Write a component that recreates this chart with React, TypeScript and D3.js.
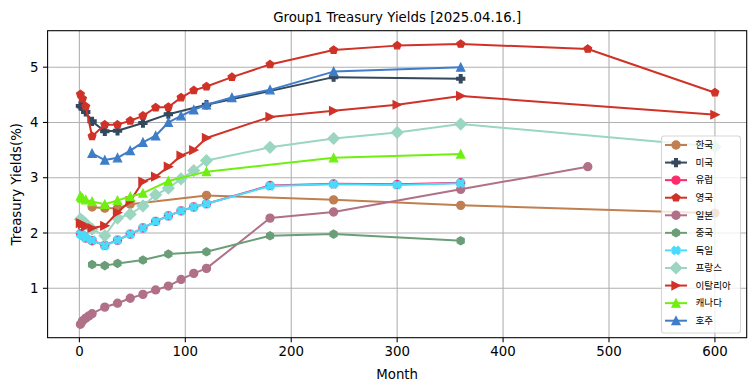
import * as d3 from "d3";

const title = "Group1 Treasury Yields [2025.04.16.]";
const xTicks = [0, 100, 200, 300, 400, 500, 600];
const yTicks = [1, 2, 3, 4, 5];

const koreaMonths = [12, 24, 36, 48, 120, 240, 360, 600];
const koreaYields = [2.47, 2.45, 2.45, 2.52, 2.68, 2.6, 2.5, 2.36];

const usMonths = [1, 2, 3, 4, 6, 12, 24, 36, 60, 84, 120, 240, 360];
const usYields = [4.3, 4.29, 4.3, 4.26, 4.19, 4.02, 3.84, 3.85, 3.99, 4.15, 4.32, 4.82, 4.79];

const euroMonths = [1, 3, 6, 12, 24, 36, 48, 60, 72, 84, 96, 108, 120, 180, 240, 300, 360];
const euroYields = [1.99, 1.96, 1.91, 1.86, 1.78, 1.87, 1.98, 2.09, 2.21, 2.31, 2.4, 2.47, 2.53, 2.86, 2.89, 2.88, 2.91];

const ukMonths = [1, 3, 6, 12, 24, 36, 48, 60, 72, 84, 96, 108, 120, 144, 180, 240, 300, 360, 480, 600];
const ukYields = [4.51, 4.43, 4.29, 3.75, 3.96, 3.96, 4.03, 4.12, 4.27, 4.28, 4.45, 4.58, 4.65, 4.82, 5.05, 5.31, 5.39, 5.42, 5.33, 4.54];

const japanMonths = [1, 3, 6, 9, 12, 24, 36, 48, 60, 72, 84, 96, 108, 120, 180, 240, 360, 480];
const japanYields = [0.35, 0.41, 0.46, 0.5, 0.54, 0.66, 0.73, 0.82, 0.89, 0.97, 1.04, 1.16, 1.27, 1.36, 2.27, 2.38, 2.79, 3.2];

const chinaMonths = [12, 24, 36, 60, 84, 120, 180, 240, 360];
const chinaYields = [1.43, 1.41, 1.45, 1.51, 1.62, 1.66, 1.95, 1.98, 1.86];

const germanyMonths = [1, 3, 6, 12, 24, 36, 48, 60, 72, 84, 96, 108, 120, 180, 240, 300, 360];
const germanyYields = [1.98, 1.96, 1.91, 1.87, 1.77, 1.87, 1.98, 2.09, 2.21, 2.31, 2.4, 2.47, 2.53, 2.85, 2.88, 2.87, 2.9];

const franceMonths = [1, 3, 6, 12, 24, 36, 48, 60, 72, 84, 96, 108, 120, 180, 240, 300, 360, 600];
const franceYields = [2.25, 2.22, 2.17, 2.07, 1.95, 2.27, 2.34, 2.49, 2.69, 2.81, 2.98, 3.13, 3.31, 3.55, 3.71, 3.82, 3.97, 3.56];

const italyMonths = [1, 3, 6, 12, 24, 36, 48, 60, 72, 84, 96, 108, 120, 180, 240, 300, 360, 600];
const italyYields = [2.18, 2.16, 2.12, 2.09, 2.13, 2.37, 2.58, 2.93, 3.02, 3.2, 3.4, 3.5, 3.72, 4.1, 4.21, 4.32, 4.48, 4.14];

const canadaMonths = [1, 2, 3, 6, 12, 24, 36, 48, 60, 84, 120, 240, 360];
const canadaYields = [2.67, 2.64, 2.63, 2.6, 2.57, 2.52, 2.59, 2.66, 2.72, 2.94, 3.11, 3.36, 3.43];

const australiaMonths = [12, 24, 36, 48, 60, 72, 84, 96, 108, 120, 144, 180, 240, 360];
const australiaYields = [3.44, 3.32, 3.36, 3.49, 3.64, 3.76, 4.0, 4.12, 4.23, 4.32, 4.45, 4.59, 4.92, 5.0];

const series = [
  { name: "한국", months: koreaMonths, values: koreaYields, color: "#c07f51", marker: "o" },
  { name: "미국", months: usMonths, values: usYields, color: "#34495e", marker: "P" },
  { name: "유럽", months: euroMonths, values: euroYields, color: "#ff2a6d", marker: "o" },
  { name: "영국", months: ukMonths, values: ukYields, color: "#d03228", marker: "p" },
  { name: "일본", months: japanMonths, values: japanYields, color: "#b07088", marker: "o" },
  { name: "중국", months: chinaMonths, values: chinaYields, color: "#6a9e78", marker: "h" },
  { name: "독일", months: germanyMonths, values: germanyYields, color: "#4adbfb", marker: "X" },
  { name: "프랑스", months: franceMonths, values: franceYields, color: "#9ad6c0", marker: "D" },
  { name: "이탈리아", months: italyMonths, values: italyYields, color: "#d03228", marker: ">" },
  { name: "캐나다", months: canadaMonths, values: canadaYields, color: "#6ff010", marker: "^" },
  { name: "호주", months: australiaMonths, values: australiaYields, color: "#3f7dc8", marker: "^" },
];

const W = 755;
const H = 391;
const margin = { top: 30.7, right: 8.3, bottom: 53.3, left: 47.6 };

function polygon(n: number, r: number) {
  const pts = d3.range(n).map((i) => {
    const a = -Math.PI / 2 + (i * 2 * Math.PI) / n;
    return [r * Math.cos(a), r * Math.sin(a)];
  });
  return "M" + pts.map((p) => p.join(",")).join("L") + "Z";
}

function markerPath(m: string) {
  const s = 8;
  if (m === "P") {
    const v = [[-1, -3], [1, -3], [1, -1], [3, -1], [3, 1], [1, 1], [1, 3], [-1, 3], [-1, 1], [-3, 1], [-3, -1], [-1, -1]];
    return "M" + v.map((p) => [(p[0] * s) / 6, (p[1] * s) / 6].join(",")).join("L") + "Z";
  }
  if (m === "X") {
    const v = [[-1, -2], [0, -1], [1, -2], [2, -1], [1, 0], [2, 1], [1, 2], [0, 1], [-1, 2], [-2, 1], [-1, 0], [-2, -1]];
    return "M" + v.map((p) => [(p[0] * s) / 4, (p[1] * s) / 4].join(",")).join("L") + "Z";
  }
  if (m === "p") return polygon(5, s / 2);
  if (m === "h") return polygon(6, s / 2);
  if (m === "D") {
    const d = s * Math.SQRT1_2;
    return `M0,${-d}L${d},0L0,${d}L${-d},0Z`;
  }
  if (m === "^") return `M0,${-s / 2}L${-s / 2},${s / 2}L${s / 2},${s / 2}Z`;
  if (m === ">") return `M${s / 2},0L${-s / 2},${-s / 2}L${-s / 2},${s / 2}Z`;
  return null;
}

function Marker({ m, color, x, y }: { m: string; color: string; x: number; y: number }) {
  const p = markerPath(m);
  if (!p) return <circle cx={x} cy={y} r={4} fill={color} stroke={color} strokeWidth={1.33} />;
  return <path d={p} transform={`translate(${x},${y})`} fill={color} stroke={color} strokeWidth={1.33} strokeLinejoin="miter" />;
}

export default function App() {
  const iw = W - margin.left - margin.right;
  const ih = H - margin.top - margin.bottom;
  const x = d3.scaleLinear().domain([-30, 630]).range([0, iw]);
  const y = d3.scaleLinear().domain([0.106, 5.66]).range([ih, 0]);
  const line = d3
    .line<[number, number]>()
    .x((d) => x(d[0]))
    .y((d) => y(d[1]));

  const font = "'DejaVu Sans', sans-serif";
  const lgX = 661.5 - margin.left;
  const lgY = 136 - margin.top;
  const lgW = 79;
  const lgH = 197;
  const rowH = 17.57;

  return (
    <svg width={W} height={H} style={{ position: "absolute", left: 0, top: 0, background: "#fff" }}>
      <text x={margin.left + iw / 2} y={21.5} textAnchor="middle" fontFamily={font} fontSize={13.33} fill="#000">
        {title}
      </text>
      <g transform={`translate(${margin.left},${margin.top})`}>
        {xTicks.map((t) => (
          <line key={"gx" + t} x1={x(t)} x2={x(t)} y1={0} y2={ih} stroke="#b0b0b0" strokeWidth={1.07} />
        ))}
        {yTicks.map((t) => (
          <line key={"gy" + t} x1={0} x2={iw} y1={y(t)} y2={y(t)} stroke="#b0b0b0" strokeWidth={1.07} />
        ))}
        {series.map((s) => {
          const pts = s.months.map((m, i) => [m, s.values[i]] as [number, number]);
          return (
            <g key={s.name}>
              <path d={line(pts) || ""} fill="none" stroke={s.color} strokeWidth={2} strokeLinejoin="round" strokeLinecap="square" />
              {pts.map((p, i) => (
                <Marker key={i} m={s.marker} color={s.color} x={x(p[0])} y={y(p[1])} />
              ))}
            </g>
          );
        })}
        <rect x={0} y={0} width={iw} height={ih} fill="none" stroke="#000" strokeWidth={1.07} />
        {xTicks.map((t) => (
          <g key={"tx" + t} transform={`translate(${x(t)},${ih})`}>
            <line y1={0} y2={4.67} stroke="#000" strokeWidth={1.07} />
            <text y={18.5} textAnchor="middle" fontFamily={font} fontSize={13.33} fill="#000">
              {t}
            </text>
          </g>
        ))}
        {yTicks.map((t) => (
          <g key={"ty" + t} transform={`translate(0,${y(t)})`}>
            <line x1={0} x2={-4.67} stroke="#000" strokeWidth={1.07} />
            <text x={-9} dy="0.35em" textAnchor="end" fontFamily={font} fontSize={13.33} fill="#000">
              {t}
            </text>
          </g>
        ))}
        <g>
          <rect x={lgX} y={lgY} width={lgW} height={lgH} rx={2.7} fill="#fff" fillOpacity={0.8} stroke="#cccccc" strokeOpacity={0.8} strokeWidth={1.07} />
          {series.map((s, i) => {
            const cy = lgY + 9 + i * rowH;
            return (
              <g key={"lg" + s.name}>
                <line x1={lgX + 3.5} x2={lgX + 25.5} y1={cy} y2={cy} stroke={s.color} strokeWidth={2} />
                <Marker m={s.marker} color={s.color} x={lgX + 14.5} y={cy} />
                <text x={lgX + 34} y={cy} dy="0.35em" fontFamily="'Noto Sans CJK KR', sans-serif" fontSize={9.6} fill="#000">
                  {s.name}
                </text>
              </g>
            );
          })}
        </g>
      </g>
      <text x={margin.left + iw / 2} y={378.5} textAnchor="middle" fontFamily={font} fontSize={13.33} fill="#000">
        Month
      </text>
      <text transform={`translate(21,${margin.top + ih / 2}) rotate(-90)`} textAnchor="middle" fontFamily={font} fontSize={13.33} fill="#000">
        Treasury Yields(%)
      </text>
    </svg>
  );
}
